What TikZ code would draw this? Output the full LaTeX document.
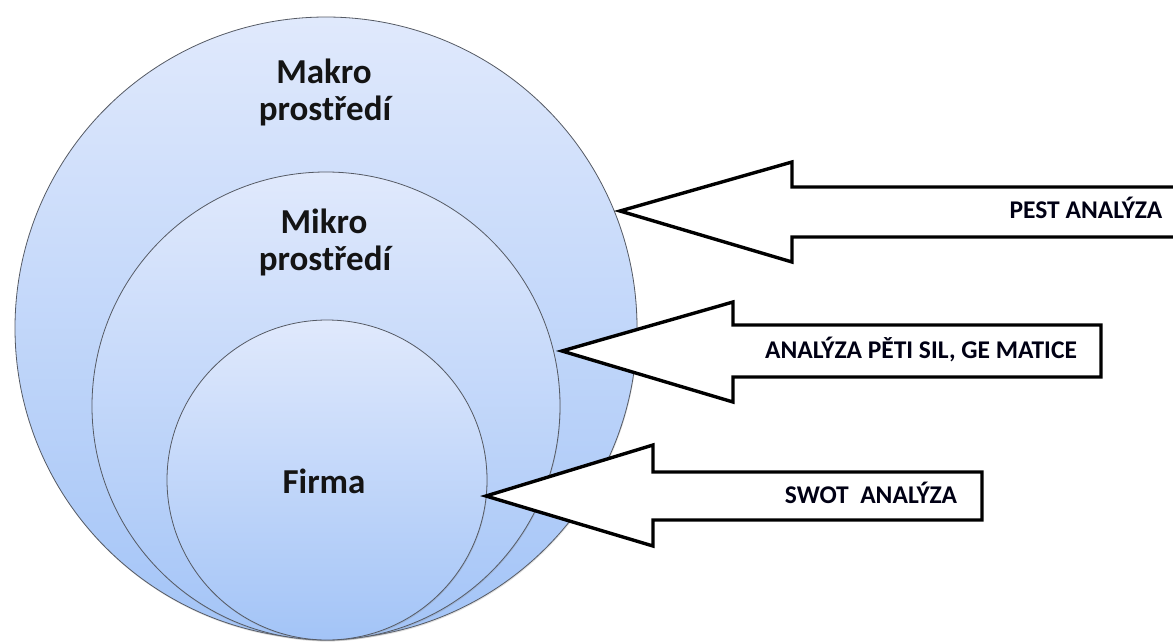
\documentclass[tikz,border=0pt]{standalone}
\usepackage{fontspec}
\setmainfont{Carlito}
\usetikzlibrary{shadows}
\definecolor{discTop}{RGB}{224,233,252}
\definecolor{discBottom}{RGB}{163,196,247}
\definecolor{discEdge}{RGB}{85,90,100}
\tikzset{
  disc/.style={circle, inner sep=0pt, draw=discEdge, line width=0.8pt,
    top color=discTop, bottom color=discBottom,
    drop shadow={opacity=0.25, shadow xshift=0.6pt, shadow yshift=-1.4pt}},
  disclabel/.style={anchor=base, font=\bfseries\fontsize{35}{39}\selectfont, text=black!92},
  blockarrow/.style={draw=black, fill=white, line width=3.4pt, line join=miter},
  arrowlabel/.style={anchor=base, font=\bfseries\fontsize{25.5}{28}\selectfont, text=black!92!blue}
}
\begin{document}
\begin{tikzpicture}[x=1pt, y=-1pt]
  \useasboundingbox (0,0) rectangle (1173,641);
  \clip (0,0) rectangle (1173,641);
  \fill[white] (0,0) rectangle (1173,641);

  % nested environments
  \node[disc, minimum size=622pt] (makro) at (326,328) {};
  \node[disc, minimum size=468pt] (mikro) at (326,406) {};
  \node[disc, minimum size=320pt] (firma) at (327,480) {};

  \node[disclabel] (makro1) at (324,83) {Makro};
  \node[disclabel] (makro2) at (325,120) {prostředí};
  \node[disclabel] (mikro1) at (324,233) {Mikro};
  \node[disclabel] (mikro2) at (325,270) {prostředí};
  \node[disclabel] (firma1) at (324,493) {Firma};

  % block arrows pointing at each environment
  \coordinate (pestTip) at (620,211);
  \coordinate (porterTip) at (562,351);
  \coordinate (swotTip) at (486,496);

  \draw[blockarrow] (pestTip) -- (792,162) -- (792,187) -- (1190,187)
    -- (1190,237) -- (792,237) -- (792,262) -- cycle;
  \draw[blockarrow] (porterTip) -- (733,302) -- (733,325) -- (1101,325)
    -- (1101,377) -- (733,377) -- (733,402) -- cycle;
  \draw[blockarrow] (swotTip) -- (653,445) -- (653,472) -- (982,472)
    -- (982,520) -- (653,520) -- (653,546) -- cycle;

  \node[arrowlabel] (pest) at (1086,218) {PEST ANALÝZA};
  \node[arrowlabel] (porter) at (921,358) {ANALÝZA PĚTI SIL, GE MATICE};
  \node[arrowlabel] (swot) at (871,503) {SWOT\hspace{0.45em}ANALÝZA};
\end{tikzpicture}
\end{document}
